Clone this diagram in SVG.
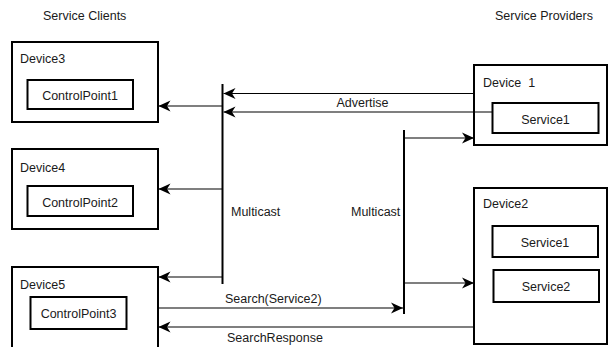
<svg xmlns="http://www.w3.org/2000/svg" width="608" height="347" viewBox="0 0 608 347">
  <defs>
    <marker id="arrow" markerUnits="userSpaceOnUse" markerWidth="12" markerHeight="12" viewBox="0 0 12 12" refX="12" refY="6" orient="auto">
      <path d="M0,0.5 L12,6 L0,11.5 L3.5,6 Z" fill="#000"/>
    </marker>
  </defs>
  <style>
    text { font-family: "Liberation Sans", Arial, sans-serif; font-size: 12.5px; fill: #1a1a1a; }
    .outer { fill: #fff; stroke: #000; stroke-width: 2; }
    .inner { fill: #fff; stroke: #000; stroke-width: 2; }
    .bus { stroke: #000; stroke-width: 2; fill: none; }
    .link { stroke: #000; stroke-width: 1.2; fill: none; }
    .arr { marker-end: url(#arrow); }
    .mid { text-anchor: middle; }
  </style>
  <rect width="608" height="347" fill="#fff"/>

  <text x="43" y="20">Service Clients</text>
  <text x="495" y="20">Service Providers</text>

  <g id="device3">
    <rect class="outer" x="12" y="42" width="146" height="80"/>
    <text x="20" y="63">Device3</text>
    <rect class="inner" x="27.5" y="80" width="105.5" height="29"/>
    <text class="mid" x="80" y="100">ControlPoint1</text>
  </g>

  <g id="device4">
    <rect class="outer" x="12" y="149" width="146" height="80"/>
    <text x="20" y="172">Device4</text>
    <rect class="inner" x="27.5" y="186" width="105.5" height="30"/>
    <text class="mid" x="80" y="207">ControlPoint2</text>
  </g>

  <g id="device5">
    <rect class="outer" x="12" y="267" width="146" height="82"/>
    <text x="20" y="289">Device5</text>
    <rect class="inner" x="30.5" y="297" width="96" height="32"/>
    <text class="mid" x="78.5" y="318">ControlPoint3</text>
  </g>

  <g id="device1">
    <rect class="outer" x="474" y="65" width="133" height="80"/>
    <text x="483" y="87" xml:space="preserve">Device  1</text>
    <rect class="inner" x="492.5" y="103" width="106" height="30"/>
    <text class="mid" x="545.5" y="124">Service1</text>
  </g>

  <g id="device2">
    <rect class="outer" x="474" y="188" width="133" height="156"/>
    <text x="483" y="208">Device2</text>
    <rect class="inner" x="492.5" y="226" width="105.5" height="31"/>
    <text class="mid" x="545" y="247">Service1</text>
    <rect class="inner" x="493.5" y="270" width="105.5" height="32"/>
    <text class="mid" x="546" y="291">Service2</text>
  </g>

  <g id="connectors">
    <!-- multicast buses -->
    <line class="bus" x1="222.5" y1="84" x2="222.5" y2="284"/>
    <line class="bus" x1="404" y1="130" x2="404" y2="314"/>

    <!-- advertisements from Device 1 -->
    <line class="link arr" x1="474" y1="93.5" x2="223.5" y2="93.5"/>
    <line class="link arr" x1="492" y1="112" x2="223.5" y2="112"/>

    <!-- bus 1 fan-out to clients -->
    <line class="link arr" x1="222" y1="106" x2="158.5" y2="106"/>
    <line class="link arr" x1="222" y1="189" x2="158.5" y2="189"/>
    <line class="link arr" x1="222" y1="277" x2="158.5" y2="277"/>

    <!-- bus 2 fan-out to providers -->
    <line class="link arr" x1="405" y1="138" x2="474" y2="138"/>
    <line class="link arr" x1="405" y1="283" x2="474" y2="283"/>

    <!-- search and response -->
    <line class="link arr" x1="158" y1="308" x2="403" y2="308"/>
    <line class="link arr" x1="474" y1="327" x2="158.5" y2="327"/>
  </g>

  <text x="362.5" y="107" class="mid">Advertise</text>
  <text x="231" y="216">Multicast</text>
  <text x="351" y="216">Multicast</text>
  <text x="225" y="303">Search(Service2)</text>
  <text x="227" y="342">SearchResponse</text>
</svg>
